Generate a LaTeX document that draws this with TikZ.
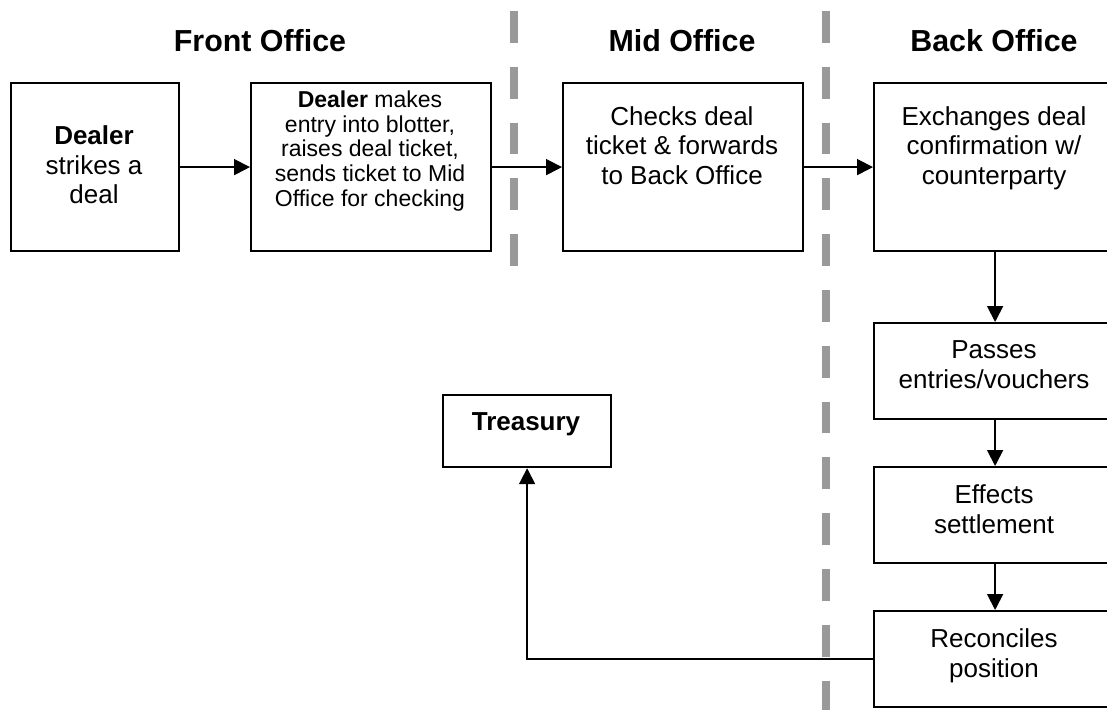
\documentclass[tikz,border=0pt]{standalone}
\usepackage{fontspec}
\setmainfont{Liberation Sans}
\usetikzlibrary{arrows.meta}
\begin{document}
\begin{tikzpicture}[x=1pt,y=-1pt,
  box/.style={draw=black,line width=2.2pt,rectangle,inner sep=0pt,anchor=north west},
  txt/.style={anchor=north,inner sep=0pt,align=center,font=\fontsize{26}{29.5}\selectfont},
  smalltxt/.style={anchor=north,inner sep=0pt,align=center,font=\fontsize{23}{24.6}\selectfont},
  titletxt/.style={anchor=north,inner sep=0pt,font=\fontsize{30.4}{35}\selectfont\bfseries},
  conn/.style={draw=black,line width=1.8pt,-{Triangle[length=16pt,width=16pt]}},
  divider/.style={draw=black!40,line width=7.5pt,dash pattern=on 31.7pt off 24.1pt}
]
\clip (0,0) rectangle (1107,709);
% dividers
\draw[divider] (514,11) -- (514,266);
\draw[divider] (826,11) -- (826,712);
% titles
\node[titletxt] (tf) at (260,29) {Front Office};
\node[titletxt] (tm) at (682,29) {Mid Office};
\node[titletxt] (tb) at (994,29) {Back Office};
% boxes
\node[box,minimum width=168pt,minimum height=168pt] (b1) at (10,82) {};
\node[box,minimum width=240pt,minimum height=168pt] (b2) at (250,82) {};
\node[box,minimum width=240pt,minimum height=168pt] (b3) at (562,82) {};
\node[box,minimum width=242pt,minimum height=168pt] (b4) at (873,82) {};
\node[box,minimum width=242pt,minimum height=96pt] (b5) at (873,322) {};
\node[box,minimum width=242pt,minimum height=96pt] (b6) at (873,466) {};
\node[box,minimum width=242pt,minimum height=96pt] (b7) at (873,610) {};
\node[box,minimum width=168pt,minimum height=72pt] (tr) at (442,394) {};
% texts
\node[txt] (t1) at (94,125.7) {\textbf{Dealer}\\strikes a\\deal};
\node[smalltxt] (t2) at (370,90.8) {\textbf{Dealer} makes\\entry into blotter,\\raises deal ticket,\\sends ticket to Mid\\Office for checking};
\node[txt] (t3) at (682,106) {Checks deal\\ticket \& forwards\\to Back Office};
\node[txt] (t4) at (994,106) {Exchanges deal\\confirmation w/\\counterparty};
\node[txt] (t5) at (994,340.7) {Passes\\entries/vouchers};
\node[txt] (t6) at (994,484.7) {Effects\\settlement};
\node[txt] (t7) at (994,628.7) {Reconciles\\position};
\node[txt] (t8) at (526,412.7) {\textbf{Treasury}};
% connectors
\draw[conn] (b1) -- (b2);
\draw[conn] (b2) -- (b3);
\draw[conn] (b3) -- (b4);
\draw[conn] (b4) -- (b5);
\draw[conn] (b5) -- (b6);
\draw[conn] (b6) -- (b7);
\draw[conn] (b7.west) -| (tr.south);
\end{tikzpicture}
\end{document}
